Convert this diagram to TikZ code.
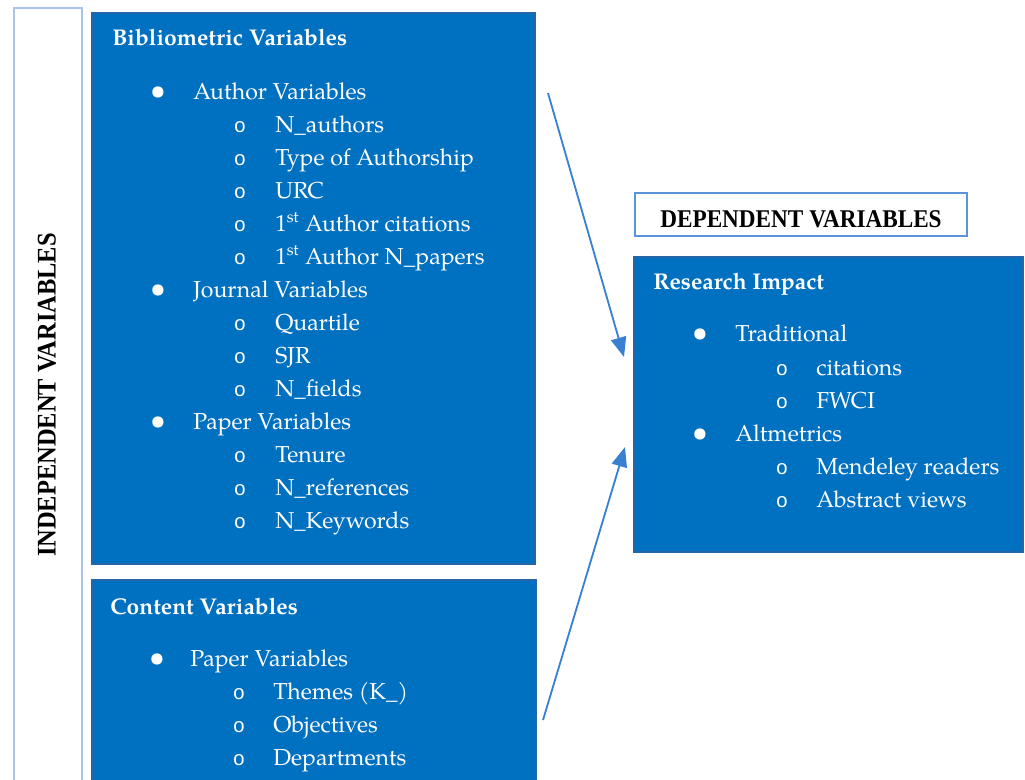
\documentclass[tikz,border=0pt]{standalone}
\usepackage{fontspec}
\setmainfont{TeX Gyre Pagella}
\newfontfamily\capfont{Liberation Serif}
\newfontfamily\subfont{Liberation Mono}
\usetikzlibrary{arrows.meta}
\definecolor{boxblue}{HTML}{0070C0}
\definecolor{boxedge}{HTML}{2565A8}
\definecolor{paleedge}{HTML}{A9C4E8}
\definecolor{arrowblue}{HTML}{3A80D2}
\definecolor{labeledge}{HTML}{5B93DB}
\begin{document}
\begin{tikzpicture}[x=0.025cm,y=-0.025cm,
  bluebox/.style={fill=boxblue,draw=boxedge,line width=0.8pt},
  head/.style={anchor=base west,inner sep=0pt,text=white,font=\fontsize{16.2}{18}\selectfont\bfseries},
  item/.style={anchor=base west,inner sep=0pt,text=white,font=\fontsize{16.4}{19}\selectfont},
  dot/.style={anchor=base,inner sep=0pt,text=white,font=\fontsize{20}{22}\selectfont},
  ring/.style={anchor=base,inner sep=0pt,text=white,font=\subfont\fontsize{14.5}{16}\selectfont},
  caps/.style={inner sep=0pt,font=\capfont\bfseries},
  link/.style={-{Triangle[length=14pt,width=11pt]},draw=arrowblue,fill=arrowblue,line width=1.3pt}]
\useasboundingbox (0,0) rectangle (1025,779);

% independent label
\draw[paleedge,line width=1.3pt] (14,790) -- (14,8) -- (82,8) -- (82,790);
\node[caps,rotate=90,yscale=1.1,font=\capfont\bfseries\fontsize{17.4}{20}\selectfont] (indep) at (47,395) {INDEPENDENT VARIABLES};

% bibliometric box
\draw[bluebox] (92,13) rectangle (535,564);
\node[head] (biblio) at (112,45) {Bibliometric Variables};

\node[dot] (b1) at (158,99) {•};
\node[item] (author) at (193,99) {Author Variables};
\node[ring] (c1) at (240,132) {o};
\node[item] (nauth) at (275,132) {N\_authors};
\node[ring] (c2) at (240,165) {o};
\node[item] (type) at (275,165) {Type of Authorship};
\node[ring] (c3) at (240,198) {o};
\node[item] (urc) at (275,198) {URC};
\node[ring] (c4) at (240,231) {o};
\node[item] (fcit) at (275,231) {1\textsuperscript{st} Author citations};
\node[ring] (c5) at (240,264) {o};
\node[item] (fpap) at (275,264) {1\textsuperscript{st} Author N\_papers};

\node[dot] (b2) at (158,297) {•};
\node[item] (journal) at (193,297) {Journal Variables};
\node[ring] (c6) at (240,330) {o};
\node[item] (quart) at (275,330) {Quartile};
\node[ring] (c7) at (240,363) {o};
\node[item] (sjr) at (275,363) {SJR};
\node[ring] (c8) at (240,396) {o};
\node[item] (nfield) at (275,396) {N\_fields};

\node[dot] (b3) at (158,429) {•};
\node[item] (paper) at (193,429) {Paper Variables};
\node[ring] (c9) at (240,462) {o};
\node[item] (tenure) at (275,462) {Tenure};
\node[ring] (c10) at (240,495) {o};
\node[item] (nref) at (275,495) {N\_references};
\node[ring] (c11) at (240,528) {o};
\node[item] (nkey) at (275,528) {N\_Keywords};

% content box
\draw[bluebox] (92,580) rectangle (536,790);
\node[head] (content) at (110,614) {Content Variables};
\node[dot] (b4) at (157,666) {•};
\node[item] (cpaper) at (190,666) {Paper Variables};
\node[ring] (c12) at (239,699) {o};
\node[item] (themes) at (273,699) {Themes (K\_)};
\node[ring] (c13) at (239,732) {o};
\node[item] (obj) at (273,732) {Objectives};
\node[ring] (c14) at (239,765) {o};
\node[item] (dept) at (273,765) {Departments};

% dependent side
\draw[labeledge,line width=1pt] (635,193) rectangle (967,236);
\node[caps,anchor=base,yscale=1.1,font=\capfont\bfseries\fontsize{16.5}{20}\selectfont] (dep) at (801,227) {DEPENDENT VARIABLES};

\draw[bluebox] (634,257) rectangle (1023,552);
\node[head] (impact) at (653,289) {Research Impact};
\node[dot] (b5) at (700,341) {•};
\node[item] (trad) at (735,341) {Traditional};
\node[ring] (c15) at (782,375) {o};
\node[item] (cites) at (816,375) {citations};
\node[ring] (c16) at (782,408) {o};
\node[item] (fwci) at (816,408) {FWCI};
\node[dot] (b6) at (700,441) {•};
\node[item] (alt) at (735,441) {Altmetrics};
\node[ring] (c17) at (782,474) {o};
\node[item] (mend) at (816,474) {Mendeley readers};
\node[ring] (c18) at (782,507) {o};
\node[item] (abs) at (816,507) {Abstract views};

% arrows
\coordinate (s1) at (548,93);
\coordinate (e1) at (624,357);
\coordinate (s2) at (543,720);
\coordinate (e2) at (625,447);
\draw[link] (s1) -- (e1);
\draw[link] (s2) -- (e2);
\end{tikzpicture}
\end{document}
